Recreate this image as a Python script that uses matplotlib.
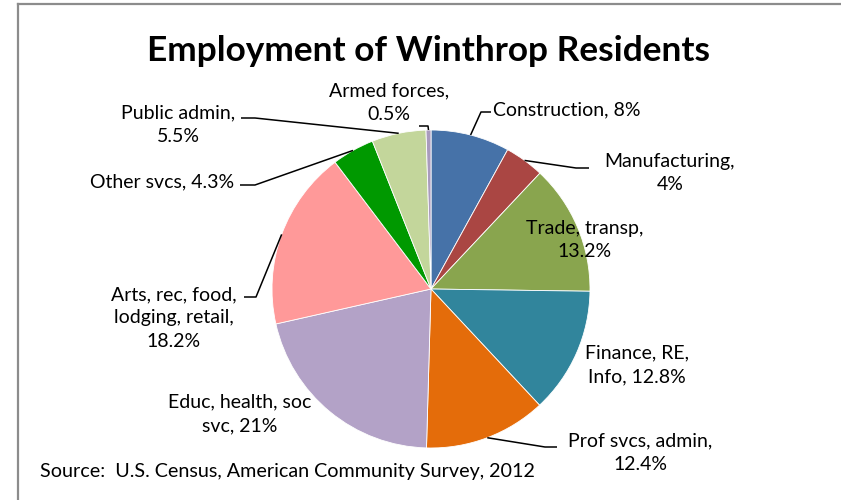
import matplotlib
matplotlib.use("Agg")
import matplotlib.pyplot as plt
import numpy as np
from matplotlib.lines import Line2D

plt.rcParams['font.family'] = ['Lato', 'DejaVu Sans']

# ---- data ----
categories = ["Construction", "Manufacturing", "Trade, transp", "Finance, RE, Info",
              "Prof svcs, admin", "Educ, health, soc svc", "Arts, rec, food, lodging, retail",
              "Other svcs", "Public admin", "Armed forces"]
values = [8, 4, 13.2, 12.8, 12.4, 21, 18.2, 4.3, 5.5, 0.5]
label_texts = ["Construction, 8%", "Manufacturing,\n4%", "Trade, transp,\n13.2%",
               "Finance, RE,\nInfo, 12.8%", "Prof svcs, admin,\n12.4%",
               "Educ, health, soc\nsvc, 21%", "Arts, rec, food,\nlodging, retail,\n18.2%",
               "Other svcs, 4.3%", "Public admin,\n5.5%", "Armed forces,\n0.5%"]
colors = ["#4672A8", "#AA4643", "#89A54E", "#31859C", "#E46C0A",
          "#B3A2C7", "#FF9999", "#009900", "#C3D69B", "#A99BBD"]

W, H = 841, 500
def Y(y):
    return H - y

fig = plt.figure(figsize=(W / 100, H / 100), dpi=100)
ax = fig.add_axes([0, 0, 1, 1])

cx, cy, R = 431, 289, 159
wedges, _ = ax.pie(values, colors=colors, startangle=90, counterclock=False,
                   center=(cx, Y(cy)), radius=R,
                   wedgeprops=dict(linewidth=0.6, edgecolor='white'))
ax.set_xlim(0, W)
ax.set_ylim(0, H)
ax.set_aspect('equal')
ax.axis('off')

# label layout (pixel coords): (x, y, ha), leader elbows
layout = [
    (493, 110, 'left'),
    (670, 173, 'center'),
    (585, 240, 'center'),
    (637, 365, 'center'),
    (640, 453, 'center'),
    (240, 414, 'center'),
    (174, 318, 'center'),
    (234, 182, 'right'),
    (178, 125, 'center'),
    (389, 103, 'center'),
]
leaders = {
    0: [(481, 112), (491, 112)],
    1: [(576, 168), (589, 168)],
    4: [(545, 447), (557, 447)],
    6: [(256, 297), (244, 297)],
    7: [(255, 185), (240, 185)],
    8: [(255, 118), (241, 118)],
    9: [(428, 126), (419, 126)],
}

fs = 14
for i, (txt, (lx, ly, ha)) in enumerate(zip(label_texts, layout)):
    ax.text(lx, Y(ly), txt, ha=ha, va='center', fontsize=fs, color='black',
            multialignment='center', linespacing=1.45)
    if i in leaders:
        w = wedges[i]
        ang = np.deg2rad((w.theta1 + w.theta2) / 2)
        sx = cx + R * np.cos(ang)
        sy = Y(cy) + R * np.sin(ang)
        pts = [(sx, sy)] + [(px, Y(py)) for px, py in leaders[i]]
        xs, ys = zip(*pts)
        ax.plot(xs, ys, color='black', lw=1.1, solid_capstyle='butt')

ax.text(429, Y(51), "Employment of Winthrop Residents", ha='center', va='center',
        fontsize=25.4, fontweight='bold', color='black')
ax.text(40, Y(472), "Source:  U.S. Census, American Community Survey, 2012",
        ha='left', va='center', fontsize=14.2, color='black')

# chart frame (top and left edges visible)
fig.add_artist(Line2D([18 / W, 1], [1 - 4 / H, 1 - 4 / H], color='#8C8C8C', lw=1.6))
fig.add_artist(Line2D([18 / W, 18 / W], [0, 1 - 4 / H], color='#8C8C8C', lw=1.6))

fig.savefig("out.png", dpi=100)
